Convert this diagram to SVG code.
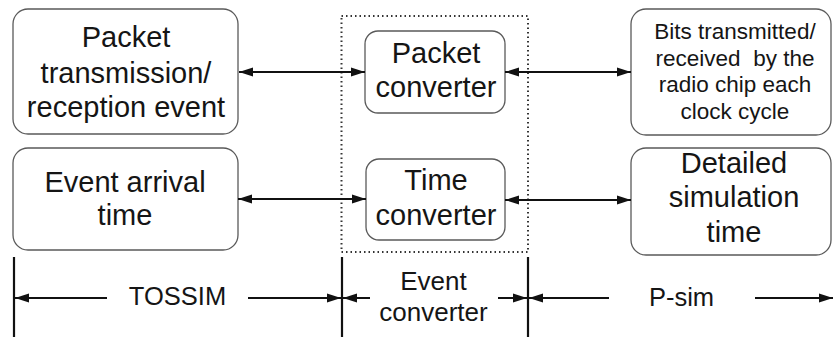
<svg xmlns="http://www.w3.org/2000/svg" width="833" height="337" viewBox="0 0 833 337">
  <defs>
    <style>
      .box { fill: #ffffff; stroke: #5a5a5a; stroke-width: 1.3; }
      .lbl { font-family: "Liberation Sans", Arial, sans-serif; fill: #151515; text-anchor: middle; }
      .big { font-size: 29px; }
      .small { font-size: 22.5px; }
      .mid { font-size: 25.5px; }
      .link { stroke: #111111; stroke-width: 2; fill: none; }
      .bar { stroke: #111111; stroke-width: 2.2; }
      .frame { fill: none; stroke: #333333; stroke-width: 2; stroke-dasharray: 1.5 3; }
    </style>
    <marker id="head" viewBox="0 0 14 10" refX="14" refY="5" markerWidth="14" markerHeight="10" markerUnits="userSpaceOnUse" orient="auto-start-reverse">
      <path d="M0,0.5 L14,5 L0,9.5 Z" fill="#111111"/>
    </marker>
  </defs>
  <rect width="833" height="337" fill="#ffffff"/>

  <!-- dotted boundary of the event converter -->
  <rect class="frame" x="341.5" y="16" width="186.5" height="236"/>

  <g id="packet-event">
    <rect class="box" x="13" y="9" width="225" height="125" rx="15"/>
    <text class="lbl big" x="126" y="47">Packet</text>
    <text class="lbl big" x="126" y="83">transmission/</text>
    <text class="lbl big" x="126" y="117">reception event</text>
  </g>

  <g id="arrival-time">
    <rect class="box" x="13" y="148" width="225" height="102" rx="15"/>
    <text class="lbl big" x="125" y="192">Event arrival</text>
    <text class="lbl big" x="125" y="225">time</text>
  </g>

  <g id="packet-converter">
    <rect class="box" x="365" y="31" width="140" height="82" rx="13"/>
    <text class="lbl big" x="436" y="63">Packet</text>
    <text class="lbl big" x="436" y="97">converter</text>
  </g>

  <g id="time-converter">
    <rect class="box" x="366" y="159" width="139" height="81" rx="13"/>
    <text class="lbl big" x="436" y="190">Time</text>
    <text class="lbl big" x="436" y="225">converter</text>
  </g>

  <g id="bits">
    <rect class="box" x="631" y="9" width="200" height="126" rx="15"/>
    <text class="lbl small" x="735" y="39">Bits transmitted/</text>
    <text class="lbl small" x="735" y="65.5" xml:space="preserve">received  by the</text>
    <text class="lbl small" x="735" y="92">radio chip each</text>
    <text class="lbl small" x="735" y="118.5">clock cycle</text>
  </g>

  <g id="sim-time">
    <rect class="box" x="631" y="148" width="200" height="107" rx="15"/>
    <text class="lbl big" x="734" y="173">Detailed</text>
    <text class="lbl big" x="734" y="207">simulation</text>
    <text class="lbl big" x="734" y="242">time</text>
  </g>

  <g id="connectors">
    <line class="link" x1="239" y1="72" x2="365" y2="72" marker-start="url(#head)" marker-end="url(#head)"/>
    <line class="link" x1="505" y1="72" x2="631" y2="72" marker-start="url(#head)" marker-end="url(#head)"/>
    <line class="link" x1="238" y1="199" x2="366" y2="199" marker-start="url(#head)" marker-end="url(#head)"/>
    <line class="link" x1="505" y1="200" x2="631" y2="200" marker-start="url(#head)" marker-end="url(#head)"/>
  </g>

  <g id="scale">
    <line class="bar" x1="14" y1="257" x2="14" y2="337"/>
    <line class="bar" x1="342" y1="257" x2="342" y2="337"/>
    <line class="bar" x1="528" y1="257" x2="528" y2="337"/>

    <line class="link" x1="107" y1="298" x2="15" y2="298" marker-end="url(#head)"/>
    <line class="link" x1="248" y1="298" x2="341" y2="298" marker-end="url(#head)"/>
    <line class="link" x1="370" y1="298" x2="343" y2="298" marker-end="url(#head)"/>
    <line class="link" x1="498" y1="298" x2="527" y2="298" marker-end="url(#head)"/>
    <line class="link" x1="609" y1="298" x2="529" y2="298" marker-end="url(#head)"/>
    <line class="link" x1="755" y1="298" x2="833" y2="298" marker-end="url(#head)"/>

    <text class="lbl mid" x="177.5" y="305">TOSSIM</text>
    <text class="lbl" style="font-size:26px" x="433.5" y="290">Event</text>
    <text class="lbl" style="font-size:26px" x="433.5" y="321">converter</text>
    <text class="lbl mid" x="681.5" y="306">P-sim</text>
  </g>
</svg>
